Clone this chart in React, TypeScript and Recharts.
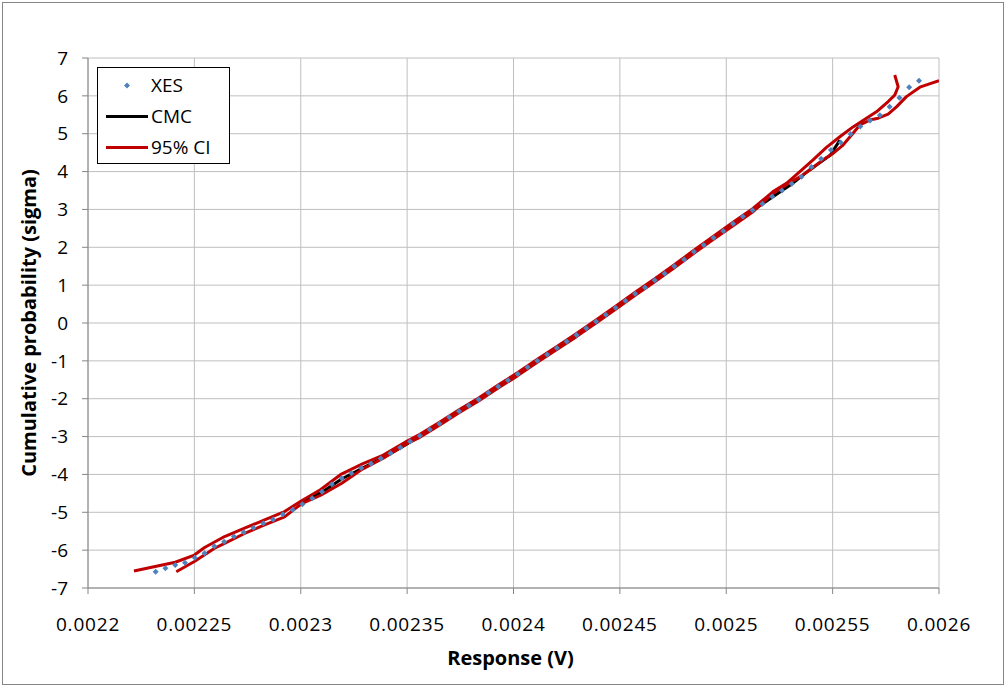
import React from "react";
import { ComposedChart, Line, XAxis, YAxis, CartesianGrid } from "recharts";

// ---------- DATA ----------
const xTicks = [0.0022, 0.00225, 0.0023, 0.00235, 0.0024, 0.00245, 0.0025, 0.00255, 0.0026];
const xTickLabels = ["0.0022", "0.00225", "0.0023", "0.00235", "0.0024", "0.00245", "0.0025", "0.00255", "0.0026"];
const yTicks = [-7, -6, -5, -4, -3, -2, -1, 0, 1, 2, 3, 4, 5, 6, 7];
const yTickLabels = ["-7", "-6", "-5", "-4", "-3", "-2", "-1", "0", "1", "2", "3", "4", "5", "6", "7"];

const seriesNames = ["XES", "CMC", "95% CI"];

const xesX = [
  0.0022318, 0.0022364, 0.002241, 0.0022456, 0.0022502, 0.0022548, 0.0022594, 0.002264, 0.0022686, 0.0022732,
  0.0022778, 0.0022824, 0.002287, 0.0022916, 0.0022962, 0.0023008, 0.0023054, 0.00231, 0.0023146, 0.0023192,
  0.0023238, 0.0023284, 0.002333, 0.0023376, 0.0023422, 0.0023468, 0.0023514, 0.002356, 0.0023606, 0.0023652,
  0.0023698, 0.0023744, 0.002379, 0.0023836, 0.0023882, 0.0023928, 0.0023974, 0.002402, 0.0024066, 0.0024112,
  0.0024158, 0.0024204, 0.002425, 0.0024296, 0.0024342, 0.0024388, 0.0024434, 0.002448, 0.0024526, 0.0024572,
  0.0024618, 0.0024664, 0.002471, 0.0024756, 0.0024802, 0.0024848, 0.0024894, 0.002494, 0.0024986, 0.0025032,
  0.0025078, 0.0025124, 0.002517, 0.0025216, 0.0025262, 0.0025308, 0.0025354, 0.00254, 0.0025446, 0.0025492,
  0.0025538, 0.0025584, 0.002563, 0.0025676, 0.0025722, 0.0025768, 0.0025814, 0.002586, 0.0025906,
];
const xesY = [
  -6.57, -6.48, -6.39, -6.33, -6.2, -6.08, -5.9, -5.78, -5.64, -5.53,
  -5.41, -5.29, -5.19, -5.05, -4.93, -4.79, -4.63, -4.46, -4.26, -4.1,
  -3.97, -3.83, -3.72, -3.58, -3.44, -3.29, -3.13, -2.98, -2.81, -2.66,
  -2.49, -2.33, -2.18, -2.02, -1.84, -1.68, -1.51, -1.35, -1.17, -1.0,
  -0.83, -0.66, -0.49, -0.32, -0.14, 0.04, 0.22, 0.4, 0.59, 0.77,
  0.94, 1.13, 1.31, 1.5, 1.68, 1.88, 2.06, 2.25, 2.43, 2.62,
  2.81, 2.98, 3.15, 3.34, 3.5, 3.68, 3.86, 4.12, 4.34, 4.57,
  4.77, 4.99, 5.19, 5.35, 5.49, 5.71, 5.95, 6.23, 6.4,
];

const cmcX = [
  0.0023008, 0.00231, 0.0023192, 0.0023284, 0.0023376, 0.0023468, 0.002356, 0.0023652, 0.0023744, 0.0023836,
  0.0023928, 0.002402, 0.0024112, 0.0024204, 0.0024296, 0.0024388, 0.002448, 0.0024572, 0.0024664, 0.0024756,
  0.0024848, 0.002494, 0.0025032, 0.0025124, 0.0025216, 0.0025315, 0.0025393, 0.002549, 0.0025534,
];
const cmcY = [
  -4.72, -4.47, -4.12, -3.85, -3.59, -3.3, -2.99, -2.67, -2.34, -2.03,
  -1.69, -1.36, -1.01, -0.67, -0.33, 0.03, 0.39, 0.76, 1.12, 1.49,
  1.87, 2.24, 2.61, 2.97, 3.32, 3.7, 4.05, 4.44, 4.83,
];

const ciUpperX = [
  0.0022216, 0.002241, 0.00225, 0.0022548, 0.0022642, 0.0022736, 0.002283, 0.0022924, 0.0023002, 0.0023094,
  0.0023191, 0.002329, 0.0023388, 0.00235, 0.002356, 0.0023652, 0.0023744, 0.0023836, 0.0023928,
  0.002402, 0.0024112, 0.0024204, 0.0024296, 0.0024388, 0.002448, 0.0024572, 0.0024664, 0.0024756, 0.0024848,
  0.002494, 0.0025032, 0.0025124, 0.002522, 0.0025283, 0.0025346, 0.0025408, 0.0025471, 0.0025534, 0.0025596,
  0.0025659, 0.0025706, 0.0025761, 0.0025792, 0.0025808, 0.0025792,
];
const ciUpperY = [
  -6.55, -6.32, -6.13, -5.93, -5.64, -5.42, -5.2, -4.98, -4.7, -4.4,
  -3.99, -3.72, -3.49, -3.12, -2.94, -2.62, -2.29, -1.98, -1.64,
  -1.31, -0.96, -0.62, -0.28, 0.08, 0.44, 0.81, 1.17, 1.54, 1.92,
  2.29, 2.66, 3.02, 3.47, 3.69, 4.0, 4.31, 4.64, 4.92, 5.18,
  5.41, 5.58, 5.85, 6.02, 6.24, 6.55,
];

const ciLowerX = [
  0.0022415, 0.00225, 0.0022595, 0.0022642, 0.0022736, 0.002283, 0.0022924, 0.0023002, 0.0023094, 0.0023191,
  0.002329, 0.0023388, 0.00235, 0.002356, 0.0023652, 0.0023744, 0.0023836, 0.0023928, 0.002402,
  0.0024112, 0.0024204, 0.0024296, 0.0024388, 0.002448, 0.0024572, 0.0024664, 0.0024756, 0.0024848, 0.002494,
  0.0025032, 0.0025124, 0.002522, 0.0025283, 0.0025346, 0.0025393, 0.0025455, 0.0025502, 0.0025549, 0.0025596,
  0.0025628, 0.0025675, 0.0025714, 0.0025761, 0.00258, 0.0025847, 0.002591, 0.0026,
];
const ciLowerY = [
  -6.57, -6.3, -5.95, -5.82, -5.56, -5.33, -5.12, -4.78, -4.55, -4.24,
  -3.86, -3.57, -3.18, -3.02, -2.7, -2.37, -2.06, -1.72, -1.39,
  -1.04, -0.7, -0.36, 0.0, 0.36, 0.73, 1.09, 1.46, 1.84, 2.21,
  2.57, 2.93, 3.43, 3.65, 3.86, 4.04, 4.31, 4.48, 4.7, 5.01,
  5.23, 5.36, 5.41, 5.52, 5.71, 5.98, 6.23, 6.4,
];

// ---------- BUILD ----------
const zip = (xs: number[], ys: number[]) => xs.map((x, i) => ({ x, y: ys[i] }));
const xesData = zip(xesX, xesY);
const cmcData = zip(cmcX, cmcY);
const ciUpperData = zip(ciUpperX, ciUpperY);
const ciLowerData = zip(ciLowerX, ciLowerY);

const XES_COLOR = "#4F81BD";
const CMC_COLOR = "#000000";
const CI_COLOR = "#C00000";
const AXIS_COLOR = "#868686";
const GRID_COLOR = "#BFBFBF";
const FONT = "'Open Sans', 'Noto Sans', sans-serif";

const Diamond = (props: any) => {
  const { cx, cy } = props;
  if (cx == null || cy == null) return null;
  const r = 3;
  return (
    <polygon
      points={`${cx},${cy - r} ${cx + r},${cy} ${cx},${cy + r} ${cx - r},${cy}`}
      fill={XES_COLOR}
      stroke="none"
    />
  );
};

const YTitle = (props: any) => {
  const vb = props.viewBox || { x: 0, y: 58, width: 88, height: 530 };
  const cx = 28;
  const cy = vb.y + vb.height / 2;
  return (
    <text
      x={cx}
      y={cy}
      transform={`rotate(-90, ${cx}, ${cy})`}
      textAnchor="middle"
      dominantBaseline="central"
      fontFamily={FONT}
      fontWeight={700}
      fontSize={20}
      fill="#000"
    >
      Cumulative probability (sigma)
    </text>
  );
};

const XTitle = (props: any) => {
  const vb = props.viewBox || { x: 88, y: 588, width: 851, height: 90 };
  const cx = vb.x + vb.width / 2 - 3;
  const y = 665;
  return (
    <text x={cx} y={y} textAnchor="middle" fontFamily={FONT} fontWeight={700} fontSize={20} fill="#000">
      Response (V)
    </text>
  );
};

const LegendBox = () => {
  const rowH = 31;
  return (
    <div
      style={{
        position: "absolute",
        left: 97,
        top: 67,
        width: 133,
        height: 97,
        boxSizing: "border-box",
        border: "1px solid #000",
        background: "#fff",
        fontFamily: FONT,
        fontSize: 19,
      }}
    >
      {seriesNames.map((name, i) => (
        <div
          key={name}
          style={{
            position: "absolute",
            left: 0,
            top: 2 + i * rowH,
            height: rowH,
            width: "100%",
            display: "flex",
            alignItems: "center",
          }}
        >
          <svg width={52} height={rowH} style={{ display: "block" }}>
            {i === 0 ? (
              <polygon points="29,12.5 32,15.5 29,18.5 26,15.5" fill={XES_COLOR} />
            ) : (
              <line x1={8} x2={50} y1={15.5} y2={15.5} stroke={i === 1 ? CMC_COLOR : CI_COLOR} strokeWidth={3} />
            )}
          </svg>
          <span style={{ marginLeft: 1, lineHeight: 1, color: "#000" }}>{name}</span>
        </div>
      ))}
    </div>
  );
};

export default function App() {
  return (
    <div
      style={{
        position: "absolute",
        left: 0,
        top: 0,
        width: 1007,
        height: 688,
        background: "#fff",
        overflow: "hidden",
      }}
    >
      <div
        style={{
          position: "absolute",
          left: 2,
          top: 2,
          width: 1002,
          height: 683,
          boxSizing: "border-box",
          border: "1px solid #868686",
        }}
      />
      <div style={{ position: "absolute", left: 0, top: 0 }}>
        <ComposedChart width={1007} height={688} margin={{ top: 58, right: 68, bottom: 10, left: 8 }}>
          <CartesianGrid stroke={GRID_COLOR} strokeWidth={1} />
          <XAxis
            type="number"
            dataKey="x"
            domain={[0.0022, 0.0026]}
            ticks={xTicks}
            interval={0}
            allowDataOverflow
            height={90}
            axisLine={{ stroke: AXIS_COLOR }}
            tickLine={{ stroke: AXIS_COLOR }}
            tickSize={6}
            tickMargin={24}
            tick={{ fontSize: 19, fill: "#000", fontFamily: FONT, letterSpacing: 0.8 }}
            tickFormatter={(v: number) => {
              const idx = xTicks.findIndex((t) => Math.abs(t - v) < 1e-9);
              return idx >= 0 ? xTickLabels[idx] : String(v);
            }}
            label={<XTitle />}
          />
          <YAxis
            type="number"
            dataKey="y"
            domain={[-7, 7]}
            ticks={yTicks}
            interval={0}
            width={80}
            axisLine={{ stroke: AXIS_COLOR }}
            tickLine={{ stroke: AXIS_COLOR }}
            tickSize={6}
            tickMargin={14}
            tick={{ fontSize: 19, fill: "#000", fontFamily: FONT }}
            tickFormatter={(v: number) => {
              const idx = yTicks.indexOf(v);
              return idx >= 0 ? yTickLabels[idx] : String(v);
            }}
            label={<YTitle />}
          />
          <Line
            data={cmcData}
            dataKey="y"
            type="linear"
            stroke={CMC_COLOR}
            strokeWidth={3}
            strokeLinejoin="round"
            dot={false}
            activeDot={false}
            isAnimationActive={false}
            name="CMC"
          />
          <Line
            data={ciUpperData}
            dataKey="y"
            type="linear"
            stroke={CI_COLOR}
            strokeWidth={3}
            strokeLinejoin="round"
            dot={false}
            activeDot={false}
            isAnimationActive={false}
            name="95% CI"
          />
          <Line
            data={ciLowerData}
            dataKey="y"
            type="linear"
            stroke={CI_COLOR}
            strokeWidth={3}
            strokeLinejoin="round"
            dot={false}
            activeDot={false}
            isAnimationActive={false}
            name="95% CI lower"
            legendType="none"
          />
          <Line
            data={xesData}
            dataKey="y"
            type="linear"
            stroke="none"
            dot={<Diamond />}
            activeDot={false}
            isAnimationActive={false}
            name="XES"
          />
        </ComposedChart>
      </div>
      <LegendBox />
    </div>
  );
}
